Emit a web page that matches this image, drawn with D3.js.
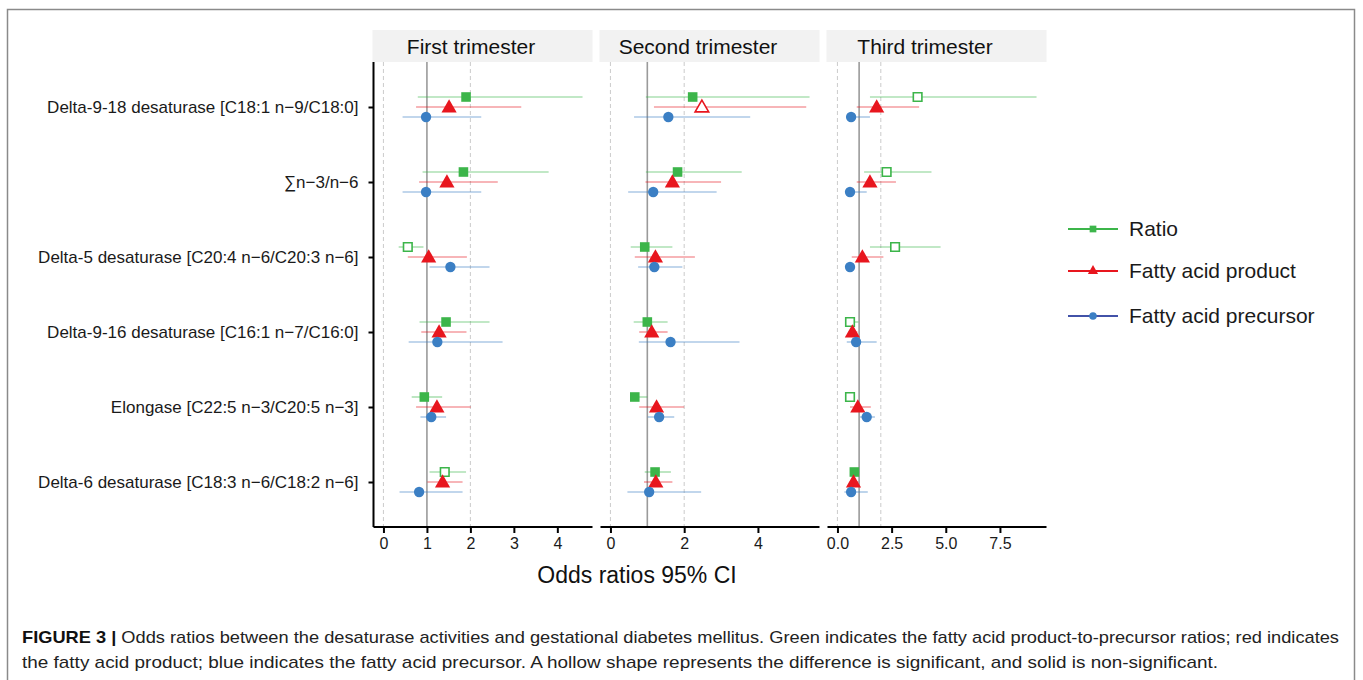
<!DOCTYPE html>
<meta charset="UTF-8">
<script src="https://cdn.jsdelivr.net/npm/d3@7"></script>
<style>
  body { margin: 0; background: #fff; }
  svg { display: block; font-family: "Liberation Sans", Arial, sans-serif; }
</style>
<svg id="chart" width="1363" height="680"></svg>
<script>
// categories (top to bottom) and facet panels
const categories = [
  "Delta-9-18 desaturase [C18:1 n\u22129/C18:0]",
  "\u2211n\u22123/n\u22126",
  "Delta-5 desaturase [C20:4 n\u22126/C20:3 n\u22126]",
  "Delta-9-16 desaturase [C16:1 n\u22127/C16:0]",
  "Elongase [C22:5 n\u22123/C20:5 n\u22123]",
  "Delta-6 desaturase [C18:3 n\u22126/C18:2 n\u22126]"
];
const panels = ["First trimester", "Second trimester", "Third trimester"];
const seriesNames = ["Ratio", "Fatty acid product", "Fatty acid precursor"];
const panelTicks = [[0, 1, 2, 3, 4], [0, 2, 4], [0, 2.5, 5, 7.5]];
const refLines = [0, 1, 2];

// odds ratios, one row per panel, one value per category
const ratioOR = [[1.90, 1.84, 0.56, 1.44, 0.94, 1.41], [2.23, 1.82, 0.93, 1.00, 0.66, 1.21], [3.70, 2.27, 2.66, 0.58, 0.58, 0.78]];
const ratioLo = [[0.79, 0.90, 0.35, 0.83, 0.65, 1.06], [0.96, 0.96, 0.55, 0.63, 0.53, 0.93], [1.50, 1.23, 1.50, 0.40, 0.43, 0.62]];
const ratioHi = [[4.58, 3.80, 0.92, 2.44, 1.35, 1.90], [5.40, 3.56, 1.68, 1.55, 1.00, 1.64], [9.19, 4.34, 4.76, 0.97, 0.77, 1.00]];
const ratioHollow = [[0, 0, 1, 0, 0, 1], [0, 0, 0, 0, 0, 0], [1, 1, 1, 1, 1, 0]];

const productOR = [[1.51, 1.46, 1.04, 1.28, 1.23, 1.36], [2.48, 1.68, 1.22, 1.12, 1.25, 1.23], [1.81, 1.50, 1.15, 0.69, 0.94, 0.74]];
const productLo = [[0.75, 0.82, 0.56, 0.87, 0.75, 1.01], [1.18, 0.95, 0.66, 0.78, 0.78, 0.91], [0.89, 0.89, 0.66, 0.51, 0.58, 0.55]];
const productHi = [[3.17, 2.63, 1.92, 1.91, 2.01, 1.82], [5.31, 3.00, 2.29, 1.55, 2.00, 1.68], [3.77, 2.70, 2.12, 0.92, 1.54, 0.97]];
const productHollow = [[0, 0, 0, 0, 0, 0], [1, 0, 0, 0, 0, 0], [0, 0, 0, 0, 0, 0]];

const precursorOR = [[0.98, 0.98, 1.54, 1.24, 1.10, 0.82], [1.57, 1.16, 1.19, 1.63, 1.32, 1.05], [0.63, 0.58, 0.58, 0.86, 1.35, 0.63]];
const precursorLo = [[0.44, 0.44, 1.06, 0.58, 0.85, 0.37], [0.64, 0.48, 0.75, 0.77, 1.01, 0.46], [0.40, 0.43, 0.45, 0.43, 1.04, 0.32]];
const precursorHi = [[2.25, 2.25, 2.44, 2.74, 1.44, 1.82], [3.79, 2.88, 1.95, 3.50, 1.73, 2.46], [1.50, 1.35, 0.80, 1.81, 1.73, 1.40]];
const precursorHollow = [[0, 0, 0, 0, 0, 0], [0, 0, 0, 0, 0, 0], [0, 0, 0, 0, 0, 0]];

const colors = ["#3cb54a", "#e8161e", "#3b7fc4"];
const legendLineColors = ["#3cb54a", "#e8161e", "#4252a8"];
const shapes = [d3.symbolSquare, d3.symbolTriangle, d3.symbolCircle];
const shapeSize = [92, 100, 84];
const dodge = [-10, 0, 10];

const est = [ratioOR, productOR, precursorOR];
const lo = [ratioLo, productLo, precursorLo];
const hi = [ratioHi, productHi, precursorHi];
const hollow = [ratioHollow, productHollow, precursorHollow];

const svg = d3.select("#chart");

// outer frame
svg.append("rect")
  .attr("x", 7.5).attr("y", 9.5).attr("width", 1347).attr("height", 680)
  .attr("fill", "none").attr("stroke", "#8a8a8a").attr("stroke-width", 1.5);

const plotTop = 62, plotBottom = 527;
const panelW = 219, panelGap = 8, firstLeft = 373.5;

const y = d3.scalePoint().domain(categories).range([plotTop, plotBottom]).padding(0.6);

// left axis
const yAxis = svg.append("g")
  .attr("transform", `translate(${firstLeft},0)`)
  .call(d3.axisLeft(y).tickSize(5).tickPadding(10));
yAxis.select(".domain").attr("stroke", "#000").attr("stroke-width", 2)
  .attr("d", `M0,${plotTop}V${plotBottom}`);
yAxis.selectAll(".tick line").attr("stroke", "#000").attr("stroke-width", 2);
yAxis.selectAll(".tick text").attr("font-size", 17).attr("fill", "#1a1a1a")
  .attr("font-family", "'Liberation Sans', Arial, sans-serif");

panels.forEach((name, p) => {
  const left = firstLeft + p * (panelW + panelGap);
  const right = left + panelW;
  const vals = [...refLines];
  for (let s = 0; s < 3; s++) { vals.push(...lo[s][p], ...hi[s][p]); }
  const mn = d3.min(vals), mx = d3.max(vals), pad = (mx - mn) * 0.05;
  const x = d3.scaleLinear().domain([mn - pad, mx + pad]).range([left, right]);

  // strip
  svg.append("rect").attr("x", left - 1).attr("y", 30).attr("width", panelW + 1).attr("height", plotTop - 30)
    .attr("fill", "#f2f2f2");
  svg.append("text").attr("x", (left + right) / 2 - 12).attr("y", 54)
    .attr("text-anchor", "middle").attr("font-size", 21).attr("fill", "#111").text(name);

  // reference lines
  refLines.forEach(v => {
    svg.append("line").attr("x1", x(v)).attr("x2", x(v)).attr("y1", plotTop).attr("y2", plotBottom)
      .attr("stroke", v === 1 ? "#9a9a9a" : "#cfcfcf")
      .attr("stroke-width", v === 1 ? 1.6 : 1.1)
      .attr("stroke-dasharray", v === 1 ? null : "4,3");
  });

  // CI lines and points
  for (let s = 0; s < 3; s++) {
    const g = svg.append("g");
    categories.forEach((c, i) => {
      const cy = y(c) + dodge[s];
      g.append("line").attr("x1", x(lo[s][p][i])).attr("x2", x(hi[s][p][i]))
        .attr("y1", cy).attr("y2", cy)
        .attr("stroke", colors[s]).attr("stroke-opacity", 0.42).attr("stroke-width", 1.6);
    });
    categories.forEach((c, i) => {
      const cy = y(c) + dodge[s];
      const h = hollow[s][p][i];
      g.append("path")
        .attr("d", d3.symbol(shapes[s], h ? shapeSize[s] * 0.8 : shapeSize[s])())
        .attr("transform", `translate(${x(est[s][p][i])},${cy + (s === 1 ? 1 : 0)})`)
        .attr("fill", h ? "#fff" : colors[s])
        .attr("stroke", h ? colors[s] : "none")
        .attr("stroke-width", h ? 1.6 : 0);
    });
  }

  // bottom axis
  const xAxis = svg.append("g").attr("transform", `translate(0,${plotBottom})`)
    .call(d3.axisBottom(x).tickValues(panelTicks[p]).tickSize(6).tickPadding(5)
      .tickFormat(p === 2 ? d3.format(".1f") : d3.format("d")));
  xAxis.select(".domain").attr("stroke", "#000").attr("stroke-width", 2)
    .attr("d", `M${left},0H${right}`);
  xAxis.selectAll(".tick line").attr("stroke", "#000").attr("stroke-width", 2);
  xAxis.selectAll(".tick text").attr("font-size", 16).attr("fill", "#1a1a1a")
    .attr("font-family", "'Liberation Sans', Arial, sans-serif");
});

// x title
svg.append("text").attr("x", 637).attr("y", 583).attr("text-anchor", "middle")
  .attr("font-size", 23).attr("fill", "#111").text("Odds ratios 95% CI");

// legend
const legendY = [229, 271, 316];
seriesNames.forEach((n, s) => {
  const g = svg.append("g").attr("transform", `translate(0,${legendY[s]})`);
  g.append("line").attr("x1", 1068).attr("x2", 1118).attr("stroke", legendLineColors[s]).attr("stroke-width", 2);
  g.append("path").attr("d", d3.symbol(shapes[s], 45)()).attr("transform", "translate(1093,0)")
    .attr("fill", colors[s]);
  g.append("text").attr("x", 1129).attr("y", 7).attr("font-size", 21).attr("fill", "#1a1a1a").text(n);
});

// caption
const cap = svg.append("g").attr("font-family", "'Liberation Sans Narrow', 'Arial Narrow', 'Liberation Sans', sans-serif")
  .attr("font-size", 17).attr("fill", "#222");
const t1 = cap.append("text").attr("x", 22).attr("y", 643)
  .attr("textLength", 1317).attr("lengthAdjust", "spacingAndGlyphs");
t1.append("tspan").attr("font-weight", "bold").attr("fill", "#111").text("FIGURE 3 | ");
t1.append("tspan").text("Odds ratios between the desaturase activities and gestational diabetes mellitus. Green indicates the fatty acid product-to-precursor ratios; red indicates");
cap.append("text").attr("x", 22).attr("y", 668)
  .attr("textLength", 1196).attr("lengthAdjust", "spacingAndGlyphs")
  .text("the fatty acid product; blue indicates the fatty acid precursor. A hollow shape represents the difference is significant, and solid is non-significant.");
</script>
